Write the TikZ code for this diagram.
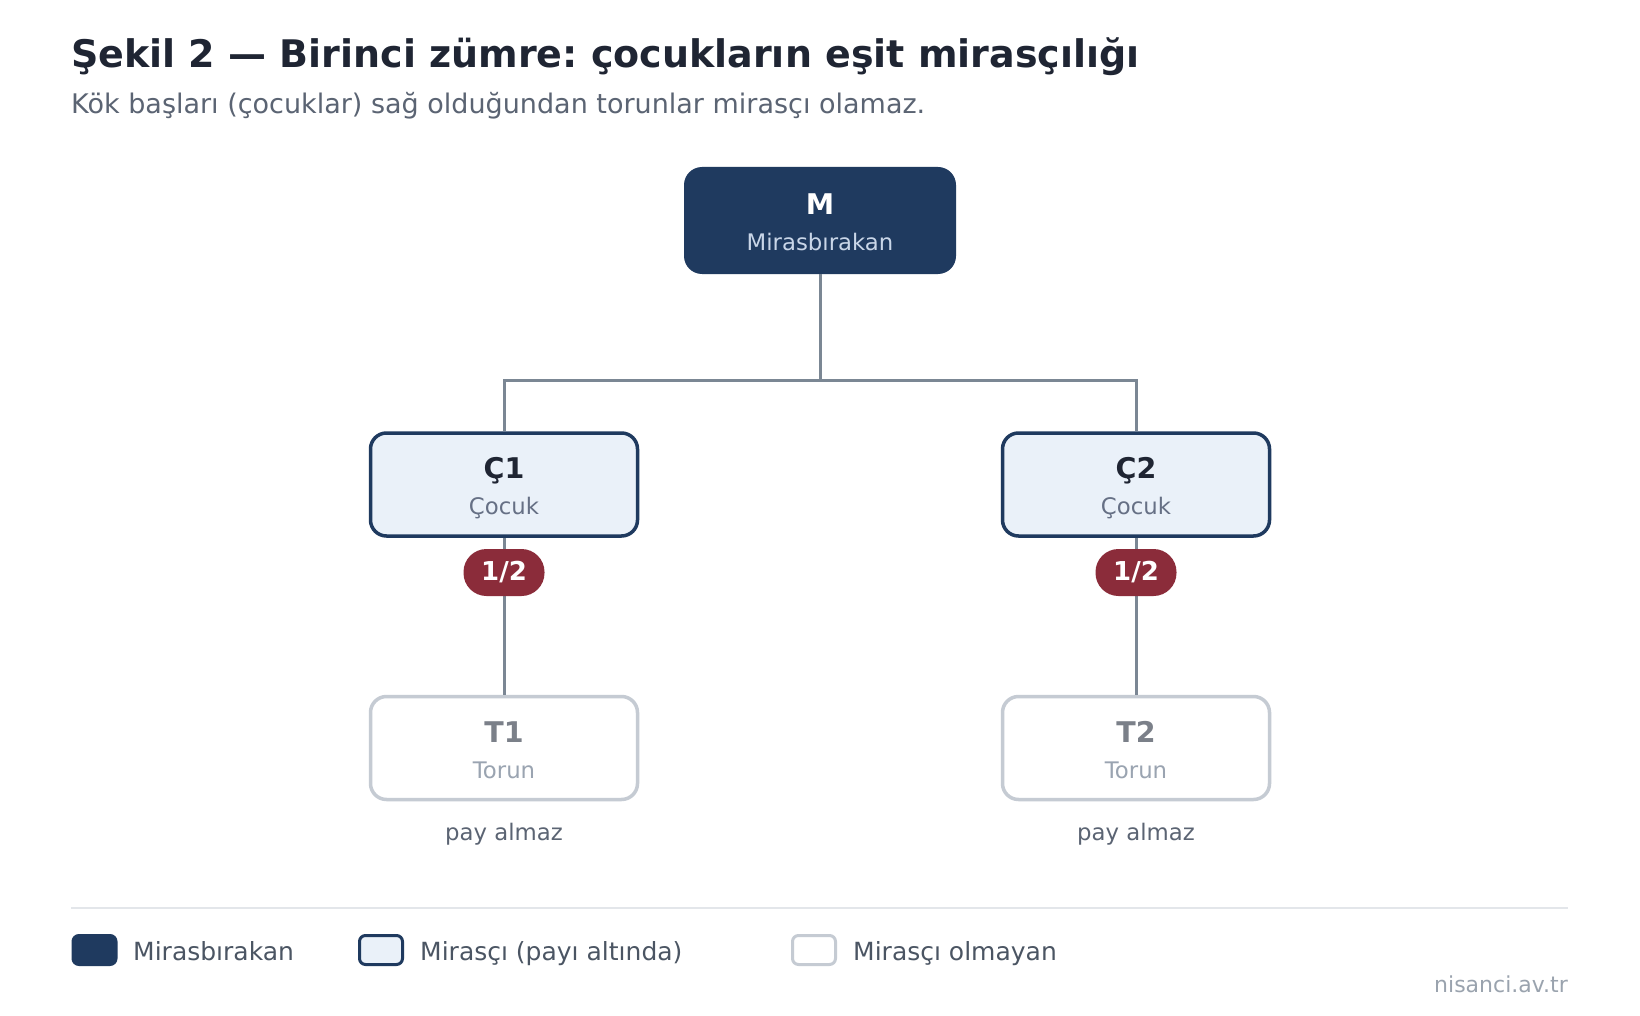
\documentclass[tikz,border=0pt]{standalone}
\usepackage{fontspec}
\setmainfont{DejaVu Sans}
\frenchspacing
\definecolor{navy}{HTML}{1F3A5F}
\definecolor{lightfill}{HTML}{EAF1F9}
\definecolor{titlecol}{HTML}{1F2533}
\definecolor{subcol}{HTML}{5B6473}
\definecolor{mirsub}{HTML}{C9D6E8}
\definecolor{cocukcol}{HTML}{667085}
\definecolor{tstroke}{HTML}{C5CBD3}
\definecolor{tlabel}{HTML}{7B8089}
\definecolor{tsub}{HTML}{9AA4B1}
\definecolor{badgecol}{HTML}{8B2C3A}
\definecolor{conncol}{HTML}{7B8794}
\definecolor{rulecol}{HTML}{E3E6EA}
\definecolor{legtext}{HTML}{4B5563}
\definecolor{sitecol}{HTML}{9AA3AE}
\tikzset{
  boxbase/.style={rectangle, rounded corners=16pt, inner sep=0pt, line width=3.5pt,
    minimum width=267pt, minimum height=103pt},
  mbox/.style={rectangle, rounded corners=18pt, inner sep=0pt, fill=navy,
    minimum width=272pt, minimum height=107pt},
  cbox/.style={boxbase, draw=navy, fill=lightfill},
  tbox/.style={boxbase, draw=tstroke, fill=white},
  conn/.style={draw=conncol, line width=3pt},
  badge/.style={rectangle, rounded corners=23pt, fill=badgecol, inner sep=0pt,
    minimum width=81pt, minimum height=47pt, text=white,
    font=\fontsize{26}{30}\selectfont\bfseries},
  lbl/.style={anchor=base, inner sep=0pt, font=\fontsize{28.5}{34}\selectfont\bfseries},
  sublbl/.style={anchor=base, inner sep=0pt, font=\fontsize{22.8}{27}\selectfont},
  swatch/.style={rectangle, rounded corners=6pt, inner sep=0pt, line width=3pt,
    minimum width=43pt, minimum height=29pt},
  legtxt/.style={anchor=base west, inner sep=0pt, text=legtext, font=\fontsize{25}{29}\selectfont},
}
\begin{document}
\begin{tikzpicture}[x=1pt,y=-1pt]
\useasboundingbox[fill=white] (0,0) rectangle (1640,1016);

% title
\node[anchor=base west, inner sep=0pt, text=titlecol, font=\fontsize{38}{44}\selectfont\bfseries]
  (title) at (71,68) {Şekil 2 — Birinci zümre: çocukların eşit mirasçılığı};
\node[anchor=base west, inner sep=0pt, text=subcol, font=\fontsize{27}{32}\selectfont]
  (subtitle) at (71,114) {Kök başları (çocuklar) sağ olduğundan torunlar mirasçı olamaz.};

% boxes
\node[mbox] (M) at (820,220.5) {};
\node[cbox] (C1) at (504,484.5) {};
\node[cbox] (C2) at (1136,484.5) {};
\node[tbox] (T1) at (504,748) {};
\node[tbox] (T2) at (1136,748) {};

% connectors
\coordinate (J) at (820,380);
\draw[conn] (M.south) -- (J);
\draw[conn] (C1.north) |- (J) -| (C2.north);
\draw[conn] (C1.south) -- (T1.north);
\draw[conn] (C2.south) -- (T2.north);

% badges
\node[badge] (B1) at (504,572.5) {1/2};
\node[badge] (B2) at (1136,572.5) {1/2};

% labels
\node[lbl, text=white] (Ml) at (820,215) {M};
\node[sublbl, text=mirsub] (Ms) at (820,251) {Mirasbırakan};
\node[lbl, text=titlecol] (C1l) at (504,478) {Ç1};
\node[sublbl, text=cocukcol] (C1s) at (504,514) {Çocuk};
\node[lbl, text=titlecol] (C2l) at (1136,478) {Ç2};
\node[sublbl, text=cocukcol] (C2s) at (1136,514) {Çocuk};
\node[lbl, text=tlabel] (T1l) at (504,742) {T1};
\node[sublbl, text=tsub] (T1s) at (504,778) {Torun};
\node[lbl, text=tlabel] (T2l) at (1136,742) {T2};
\node[sublbl, text=tsub] (T2s) at (1136,778) {Torun};
\node[sublbl, text=subcol] (P1) at (504,840) {pay almaz};
\node[sublbl, text=subcol] (P2) at (1136,840) {pay almaz};

% legend
\coordinate (R1) at (71,908);
\coordinate (R2) at (1568,908);
\draw[draw=rulecol, line width=2pt] (R1) -- (R2);
\node[swatch, fill=navy, draw=navy] (S1) at (94.5,950) {};
\node[legtxt] (L1) at (133,960) {Mirasbırakan};
\node[swatch, fill=lightfill, draw=navy] (S2) at (381,950) {};
\node[legtxt] (L2) at (420,960) {Mirasçı (payı altında)};
\node[swatch, fill=white, draw=tstroke] (S3) at (814,950) {};
\node[legtxt] (L3) at (853,960) {Mirasçı olmayan};

\node[anchor=base east, inner sep=0pt, text=sitecol, font=\fontsize{22}{26}\selectfont]
  (site) at (1568,992) {nisanci.av.tr};
\end{tikzpicture}
\end{document}
